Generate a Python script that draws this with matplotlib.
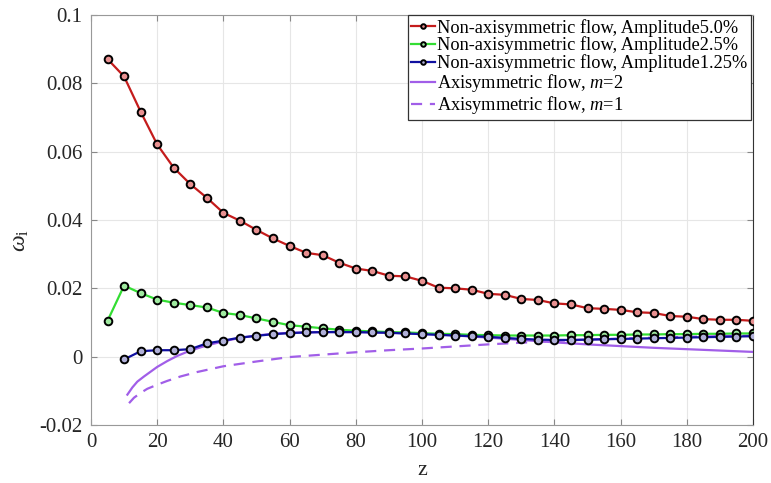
import numpy as np
import matplotlib

matplotlib.use("Agg")
import matplotlib.pyplot as plt

plt.rcParams['font.family'] = ['Liberation Serif', 'DejaVu Serif']
plt.rcParams['mathtext.fontset'] = 'custom'
plt.rcParams['mathtext.rm'] = 'Liberation Serif'
plt.rcParams['mathtext.it'] = 'Liberation Serif:italic'

# non-axisymmetric runs, sampled every 5 in z
z_red = np.arange(5, 205, 5)
amp_50 = [0.0871, 0.0820, 0.0717, 0.0621, 0.0553, 0.0505, 0.0465, 0.0421, 0.0398, 0.0371,
          0.0346, 0.0324, 0.0304, 0.0297, 0.0275, 0.0258, 0.0251, 0.0237, 0.0235, 0.0222,
          0.0202, 0.0200, 0.0196, 0.0184, 0.0181, 0.0169, 0.0166, 0.0156, 0.0153, 0.0142,
          0.0140, 0.0137, 0.0130, 0.0128, 0.0119, 0.0117, 0.0110, 0.0108, 0.0108, 0.0105]

z_green = np.arange(5, 205, 5)
amp_25 = [0.0105, 0.0208, 0.0186, 0.0167, 0.0158, 0.0151, 0.0144, 0.0128, 0.0122, 0.0112,
          0.0102, 0.0092, 0.0088, 0.0083, 0.0079, 0.0076, 0.0074, 0.0072, 0.0071, 0.0069,
          0.0067, 0.0066, 0.0064, 0.0063, 0.0062, 0.0062, 0.0062, 0.0062, 0.0063, 0.0063,
          0.0064, 0.0064, 0.0065, 0.0065, 0.0066, 0.0066, 0.0067, 0.0067, 0.0068, 0.0068]

z_blue = np.arange(10, 205, 5)
amp_125 = [-0.0008, 0.0016, 0.0019, 0.0019, 0.0022, 0.0039, 0.0047, 0.0056, 0.0061, 0.0066,
           0.0069, 0.0071, 0.0072, 0.0072, 0.0072, 0.0071, 0.0070, 0.0068, 0.0066, 0.0064,
           0.0062, 0.0060, 0.0058, 0.0055, 0.0052, 0.0050, 0.0049, 0.0049, 0.0050, 0.0051,
           0.0052, 0.0053, 0.0054, 0.0055, 0.0056, 0.0057, 0.0058, 0.0059, 0.0060]

# axisymmetric curves
z_m2 = [11, 12.5, 14, 16, 18, 20, 23, 26, 30, 35, 40, 45, 50, 55, 60, 70, 80, 90, 100,
        110, 120, 130, 140, 150, 160, 170, 180, 190, 200]
axi_m2 = [-0.0111, -0.0090, -0.0073, -0.0058, -0.0044, -0.0030, -0.0013, 0.0002, 0.0018,
          0.0033, 0.0045, 0.0055, 0.0062, 0.0067, 0.0070, 0.0072, 0.0072, 0.0070, 0.0067,
          0.0062, 0.0056, 0.0049, 0.0042, 0.0036, 0.0031, 0.0026, 0.0022, 0.0018, 0.0014]

z_m1 = [11.5, 13, 15, 17, 20, 23, 27, 32, 40, 50, 60, 70, 80, 90, 100, 110, 120, 130,
        140, 150, 160, 170, 180, 190, 200]
axi_m1 = [-0.0136, -0.0120, -0.0106, -0.0094, -0.0082, -0.0071, -0.0058, -0.0045, -0.0028,
          -0.0014, -0.0001, 0.0006, 0.0013, 0.0019, 0.0024, 0.0030, 0.0036, 0.0041, 0.0046,
          0.0050, 0.0053, 0.0056, 0.0058, 0.0060, 0.0062]

fig = plt.figure(figsize=(7.71, 4.83), dpi=100)
ax = fig.add_axes([0.118, 0.12, 0.8587, 0.849])

mk = dict(marker='o', markersize=5.5, markeredgecolor='black', markeredgewidth=1.4)
ax.plot(z_red, amp_50, color='#c41c1c', lw=1.6, markerfacecolor='#e89090', zorder=5,
        label='Non-axisymmetric flow, Amplitude5.0%', **mk)
ax.plot(z_green, amp_25, color='#33dd33', lw=1.6, markerfacecolor='#a0eaa0', zorder=4,
        label='Non-axisymmetric flow, Amplitude2.5%', **mk)
ax.plot(z_blue, amp_125, color='#1010a0', lw=1.6, markerfacecolor='#b0b0d8', zorder=4,
        label='Non-axisymmetric flow, Amplitude1.25%', **mk)
ax.plot(z_m2, axi_m2, color='#a15ee8', lw=1.6, zorder=3,
        label='Axisymmetric flow, $\\mathit{m}$=2')
ax.plot(z_m1, axi_m1, color='#a15ee8', lw=1.6, ls=(0, (5, 3.5)), zorder=3,
        label='Axisymmetric flow, $\\mathit{m}$=1')

ax.set_xlim(0, 200)
ax.set_ylim(-0.02, 0.1)
ax.set_xticks(np.arange(0, 201, 20))
ax.set_yticks([-0.02, 0, 0.02, 0.04, 0.06, 0.08, 0.1])
ax.set_yticklabels(['-0.02', '0', '0.02', '0.04', '0.06', '0.08', '0.1'])
ax.tick_params(direction='in', length=4, labelsize=15, colors='#888888', labelcolor='#262626',
               top=True, right=True, pad=6)
ax.grid(True, color='#e6e6e6', lw=0.8)
for side in ['left', 'bottom', 'top']:
    ax.spines[side].set_color('#999999')
ax.spines['right'].set_color('#333333')

ax.set_xlabel('z', fontsize=16, color='#262626', labelpad=6)
ax.set_ylabel('$\\mathit{\\omega}_{\\mathrm{i}}$', fontsize=17, color='#262626', labelpad=4)
ax.yaxis.set_label_coords(-0.09, 0.45)

leg = ax.legend(loc='upper right', bbox_to_anchor=(0.997, 1.0), fontsize=13.2, frameon=True,
                fancybox=False, edgecolor='#333333', framealpha=1, borderpad=0.2,
                labelspacing=0.0, handlelength=1.3, handletextpad=0.1, borderaxespad=0,
                markerscale=0.6)
leg.get_frame().set_linewidth(0.9)

fig.savefig('out.png', dpi=100)
